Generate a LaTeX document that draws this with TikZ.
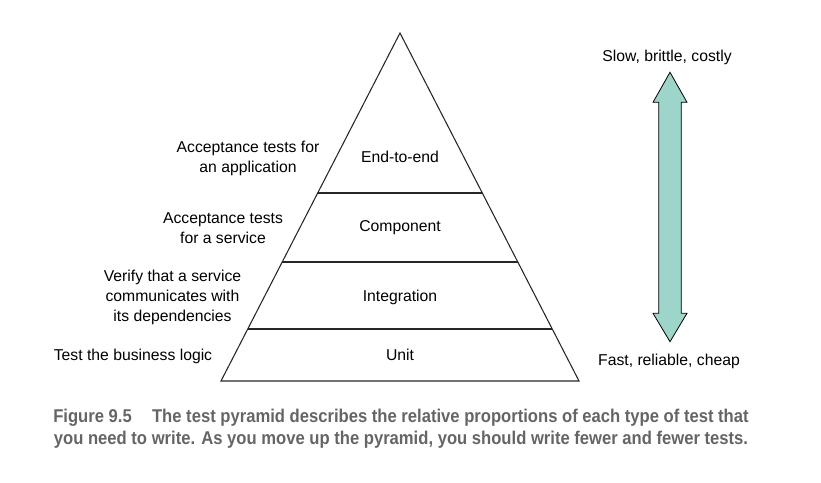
\documentclass[tikz,border=0pt]{standalone}
\usepackage{fontspec}
\setmainfont{Liberation Sans}
\newfontfamily\capfont[FakeStretch=0.9]{Liberation Sans Bold}
\usetikzlibrary{positioning}
\definecolor{arrowteal}{HTML}{9DD5CB}
\definecolor{capgray}{HTML}{656565}

\begin{document}
\begin{tikzpicture}[x=0.75pt,y=-0.75pt,every node/.style={inner sep=0pt,
    font=\fontsize{11.8}{15}\selectfont},every text node part/.style={align=center},
  declare function={ halfw(\h) = 179/348*(\h-33); }]
  \useasboundingbox (0,0) rectangle (821,482);

  % pyramid
  \coordinate (apex) at (400,33);
  \coordinate (baseL) at (221,381);
  \coordinate (baseR) at (579,381);
  \draw[line width=.8pt,black!85] (apex) -- (baseL) -- (baseR) -- cycle;
  \foreach \lvl in {193,262,329}
    \draw[line width=.8pt,black!85] ({400-halfw(\lvl)},\lvl) -- ({400+halfw(\lvl)},\lvl);

  % levels
  \node (etoe) at (400,157) {End-to-end};
  \node (comp) at (400,228) {Component};
  \node (integ) at (400,297) {Integration};
  \node (unit) at (400,355) {Unit};

  % what each level tests
  \node (app) at (248,158) {Acceptance tests for\\an application};
  \node (svc) at (223,228) {Acceptance tests\\for a service};
  \node (deps) at (172.5,297) {Verify that a service\\communicates with\\its dependencies};
  \node (logic) at (133,356) {Test the business logic};

  % cost arrow
  \draw[fill=arrowteal,line width=.6pt] (670,72.3) -- (687,102.3) -- (681.3,102.3)
    -- (681.3,313.3) -- (687,313.3) -- (670,341.7) -- (653,313.3) -- (658.7,313.3)
    -- (658.7,102.3) -- (653,102.3) -- cycle;
  \node (slow) at (667,57) {Slow, brittle, costly};
  \node (fast) at (669,361) {Fast, reliable, cheap};

  % caption
  \node[anchor=west,text=capgray,align=left,
    font=\capfont\fontsize{13.85}{16.5}\selectfont] (cap) at (53,429)
    {Figure 9.5\hspace{1.1em}The test pyramid describes the relative proportions of each type of test that\\
     you need to write. As you move up the pyramid, you should write fewer and fewer tests.};
\end{tikzpicture}
\end{document}
